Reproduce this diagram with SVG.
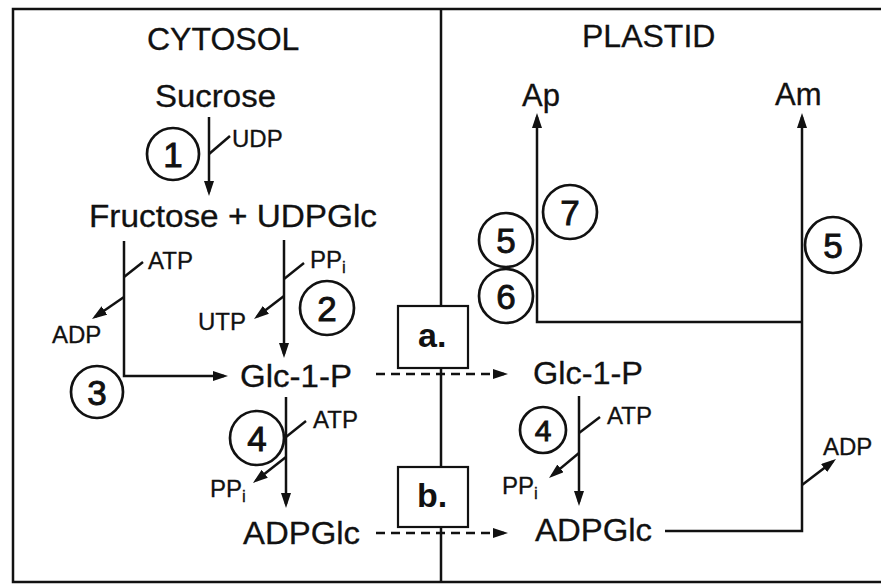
<svg xmlns="http://www.w3.org/2000/svg" width="881" height="584" viewBox="0 0 881 584">
<style>
.t{font-family:"Liberation Sans",Arial,sans-serif;fill:#111;stroke:#111;stroke-width:0.3}
.big{font-size:31px}
.hd{font-size:32px}
.sm{font-size:24px}
.sub{font-size:17px}
.num{font-size:35px;text-anchor:middle;stroke-width:0.9}
.bx{font-size:34px;font-weight:bold;stroke-width:0}
.ln{fill:none;stroke:#111;stroke-width:2.5}
.ds{fill:none;stroke:#111;stroke-width:2.5;stroke-dasharray:9 6}
.cir{fill:none;stroke:#111;stroke-width:2.7}
.box{fill:#fff;stroke:#111;stroke-width:2.2}
</style>
<defs>
<marker id="ah" viewBox="0 0 15 10" refX="11" refY="5" markerWidth="15" markerHeight="10" markerUnits="userSpaceOnUse" orient="auto">
<path d="M0,0 L15,5 L0,10 z" fill="#111"/>
</marker>
</defs>
<rect width="881" height="584" fill="#fff"/>
<g id="frame">
<path class="ln" d="M884,9 H13 V582 H884"/>
<line class="ln" x1="441" y1="9" x2="441" y2="582"/>
</g>
<g id="connectors">
<line class="ln" x1="209" y1="117" x2="209" y2="192" marker-end="url(#ah)"/>
<line class="ln" x1="209" y1="154" x2="230" y2="136"/>
<line class="ln" x1="284" y1="240" x2="284" y2="354" marker-end="url(#ah)"/>
<line class="ln" x1="284" y1="279" x2="304" y2="263"/>
<line class="ln" x1="284" y1="296" x2="257.2" y2="316.6" marker-end="url(#ah)"/>
<polyline class="ln" points="124,241 124,376 224,376" marker-end="url(#ah)"/>
<line class="ln" x1="124" y1="277" x2="143" y2="262"/>
<line class="ln" x1="124" y1="297" x2="95.3" y2="316.7" marker-end="url(#ah)"/>
<line class="ln" x1="286" y1="397" x2="286" y2="504" marker-end="url(#ah)"/>
<line class="ln" x1="286" y1="437" x2="306" y2="421"/>
<line class="ln" x1="286" y1="457" x2="256.1" y2="480.5" marker-end="url(#ah)"/>
<line class="ds" x1="376" y1="374" x2="504" y2="374" marker-end="url(#ah)"/>
<line class="ds" x1="376" y1="533" x2="504" y2="533" marker-end="url(#ah)"/>
<line class="ln" x1="579" y1="396" x2="579" y2="502" marker-end="url(#ah)"/>
<line class="ln" x1="579" y1="433" x2="600" y2="417"/>
<line class="ln" x1="579" y1="453" x2="552.1" y2="475.4" marker-end="url(#ah)"/>
<polyline class="ln" points="802,322 537,322 537,117" marker-end="url(#ah)"/>
<polyline class="ln" points="665,531 802,531 802,117" marker-end="url(#ah)"/>
<line class="ln" x1="802" y1="485" x2="832.8" y2="461.4" marker-end="url(#ah)"/>
</g>
<g id="labels">
<text class="t hd" x="147" y="50">CYTOSOL</text>
<text class="t hd" x="582" y="47">PLASTID</text>
</g>
<g id="sucrose"><text class="t big" x="155" y="107" textLength="121" lengthAdjust="spacingAndGlyphs">Sucrose</text></g>
<g id="fructose-udpglc"><text class="t big" x="89" y="227" textLength="288" lengthAdjust="spacingAndGlyphs">Fructose + UDPGlc</text></g>
<g id="glc1p-cyt"><text class="t big" x="240" y="387" textLength="112" lengthAdjust="spacingAndGlyphs">Glc-1-P</text></g>
<g id="adpglc-cyt"><text class="t big" x="243" y="544" textLength="117" lengthAdjust="spacingAndGlyphs">ADPGlc</text></g>
<g id="ap"><text class="t big" x="522" y="106">Ap</text></g>
<g id="am"><text class="t big" x="775" y="105">Am</text></g>
<g id="glc1p-pla"><text class="t big" x="533" y="384" textLength="110" lengthAdjust="spacingAndGlyphs">Glc-1-P</text></g>
<g id="adpglc-pla"><text class="t big" x="535" y="541" textLength="117" lengthAdjust="spacingAndGlyphs">ADPGlc</text></g>
<g id="cofactors">
<text class="t sm" x="232" y="147">UDP</text>
<text class="t sm" x="148" y="269">ATP</text>
<text class="t sm" x="52" y="343">ADP</text>
<text class="t sm" x="310" y="268">PP<tspan class="sub" dy="5">i</tspan></text>
<text class="t sm" x="198" y="330">UTP</text>
<text class="t sm" x="313" y="428">ATP</text>
<text class="t sm" x="210" y="497">PP<tspan class="sub" dy="5">i</tspan></text>
<text class="t sm" x="607" y="424">ATP</text>
<text class="t sm" x="502" y="494">PP<tspan class="sub" dy="5">i</tspan></text>
<text class="t sm" x="823" y="455">ADP</text>
</g>
<g id="box-a"><rect class="box" x="398" y="306" width="70" height="62"/><text class="t bx" x="418" y="347">a.</text></g>
<g id="box-b"><rect class="box" x="398" y="467" width="70" height="60"/><text class="t bx" x="417" y="507">b.</text></g>
<g id="enzyme-1"><circle class="cir" cx="173" cy="154" r="26"/><text class="t num" x="173" y="166.5">1</text></g>
<g id="enzyme-2"><circle class="cir" cx="327" cy="308" r="27"/><text class="t num" x="327" y="320.5">2</text></g>
<g id="enzyme-3"><circle class="cir" cx="97" cy="392" r="26"/><text class="t num" x="97" y="404.5">3</text></g>
<g id="enzyme-4-cyt"><circle class="cir" cx="257" cy="438" r="27"/><text class="t num" x="257" y="450.5">4</text></g>
<g id="enzyme-7"><circle class="cir" cx="570" cy="212" r="27"/><text class="t num" x="570" y="224.5">7</text></g>
<g id="enzyme-5-ap"><circle class="cir" cx="506" cy="240" r="27"/><text class="t num" x="506" y="252.5">5</text></g>
<g id="enzyme-6"><circle class="cir" cx="506" cy="296" r="27"/><text class="t num" x="506" y="308.5">6</text></g>
<g id="enzyme-5-am"><circle class="cir" cx="833" cy="245" r="28"/><text class="t num" x="833" y="257.5">5</text></g>
<g id="enzyme-4-pla"><circle class="cir" cx="543" cy="430" r="23"/><text class="t num" style="font-size:30px" x="543" y="441">4</text></g>
</svg>
